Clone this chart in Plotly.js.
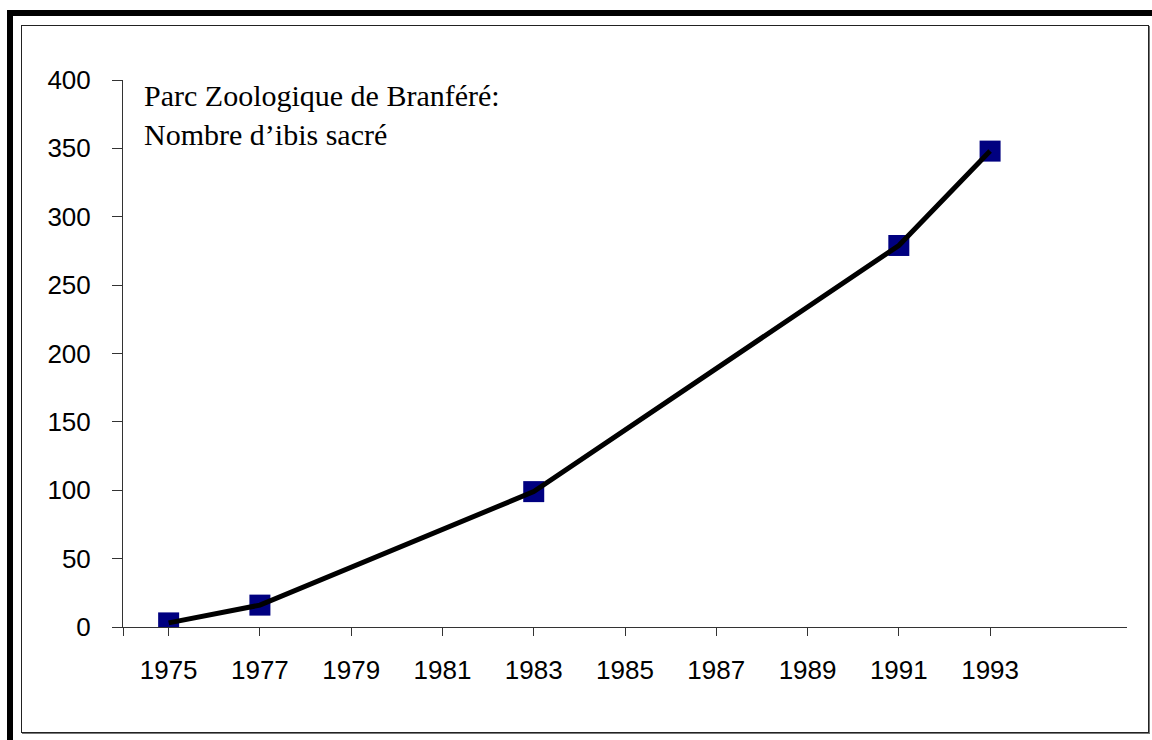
<!DOCTYPE html>
<html>
<head>
<meta charset="utf-8">
<script src="https://cdn.plot.ly/plotly-3.0.1.min.js"></script>
<style>
  html, body { margin: 0; padding: 0; background: #fff; }
  #wrap { position: relative; width: 1152px; height: 740px; overflow: hidden; }
  #chart { position: absolute; left: 0; top: 0; width: 1152px; height: 740px; }
  .thickL { position: absolute; left: 7px; top: 10px; width: 6px; height: 740px; background: #000; pointer-events: none; }
  .thickT { position: absolute; left: 7px; top: 10px; width: 1160px; height: 6px; background: #000; pointer-events: none; }
  .inner { position: absolute; left: 21px; top: 25px; width: 1126px; height: 706px; border: 1px solid #222; box-shadow: 1px 1px 0 #777; pointer-events: none; }
</style>
</head>
<body>
<div id="wrap">
  <div id="chart"></div>
  <div class="thickL"></div>
  <div class="thickT"></div>
  <div class="inner"></div>
</div>
<script>
// Data
const years = [1975, 1977, 1983, 1991, 1993];
const ibisCount = [3, 16, 99, 279, 348];
const xTickVals = [1974, 1975, 1977, 1979, 1981, 1983, 1985, 1987, 1989, 1991, 1993];
const xTickText = ['', '1975', '1977', '1979', '1981', '1983', '1985', '1987', '1989', '1991', '1993'];
const yTickVals = [0, 50, 100, 150, 200, 250, 300, 350, 400];
const chartTitle = 'Parc Zoologique de Branféré:<br>Nombre d’ibis sacré';

const traces = [
  {
    x: years, y: ibisCount, type: 'scatter', mode: 'markers',
    marker: { symbol: 'square', size: 21, color: '#000080', line: { width: 0 } },
    hoverinfo: 'x+y', showlegend: false
  },
  {
    x: years, y: ibisCount, type: 'scatter', mode: 'lines',
    line: { color: '#000000', width: 5 },
    hoverinfo: 'skip', showlegend: false
  }
];

const tickFont = { family: 'Liberation Sans, Arial, sans-serif', size: 26, color: '#000' };

const layout = {
  width: 1152, height: 740,
  margin: { l: 123, r: 25, t: 80, b: 113 },
  paper_bgcolor: '#ffffff', plot_bgcolor: '#ffffff',
  font: { family: 'Liberation Sans, Arial, sans-serif', size: 26, color: '#000' },
  showlegend: false,
  xaxis: {
    range: [1974, 1996], showgrid: false, zeroline: false,
    showline: true, linecolor: '#333', linewidth: 1,
    tickmode: 'array', tickvals: xTickVals, ticktext: xTickText,
    ticks: 'outside', ticklen: 8, tickcolor: '#333', tickwidth: 1,
    ticklabelstandoff: 12,
    tickfont: tickFont,
    fixedrange: true
  },
  yaxis: {
    range: [0, 400], showgrid: false, zeroline: false,
    showline: true, linecolor: '#333', linewidth: 1,
    tickmode: 'array', tickvals: yTickVals,
    ticks: 'outside', ticklen: 10, tickcolor: '#333', tickwidth: 1,
    ticklabelstandoff: 16,
    tickfont: tickFont,
    fixedrange: true
  },
  annotations: [{
    text: chartTitle, xref: 'paper', yref: 'paper',
    x: 0.019, y: 1.0, yshift: 3, xanchor: 'left', yanchor: 'top', align: 'left',
    showarrow: false,
    font: { family: 'Liberation Serif, Times New Roman, serif', size: 30, color: '#000' }
  }]
};

Plotly.newPlot('chart', traces, layout, { displayModeBar: false, staticPlot: true });
</script>
</body>
</html>
